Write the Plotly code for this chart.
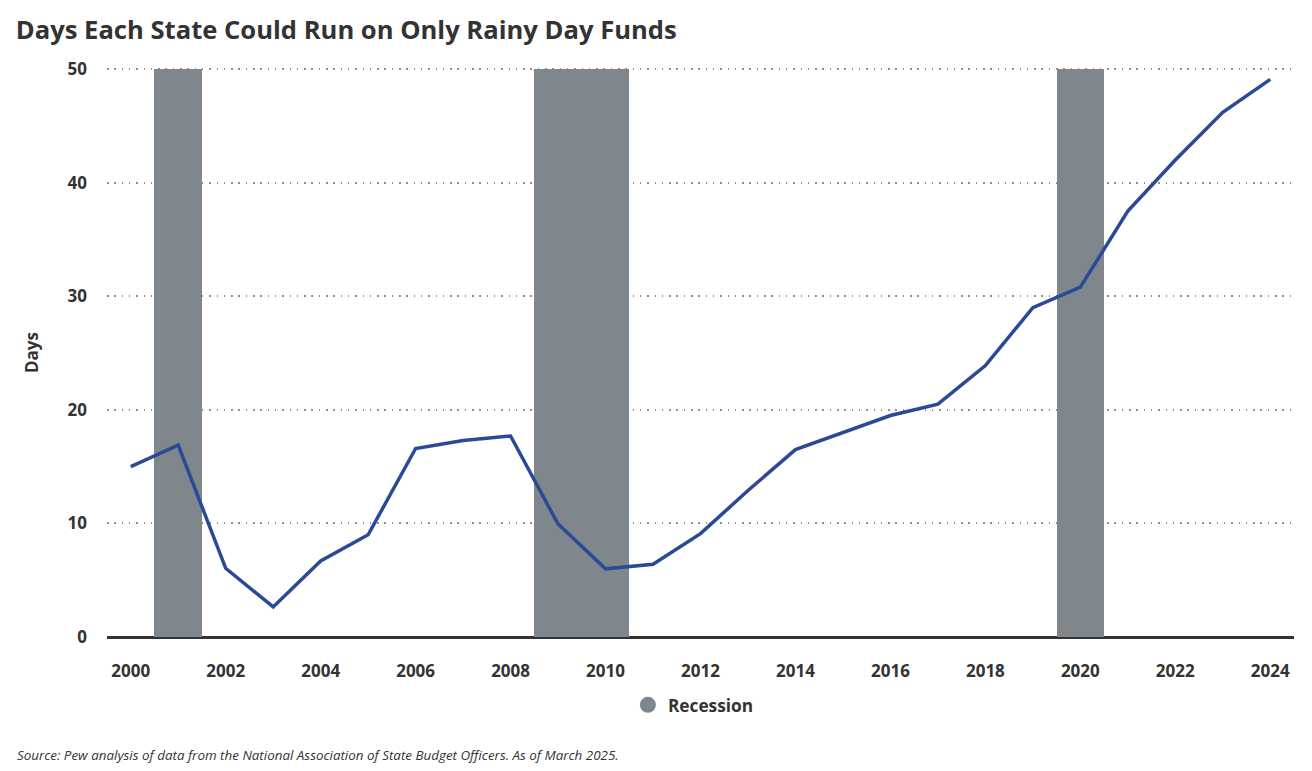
import plotly.graph_objects as go

years = list(range(2000, 2025))
days = [15.0, 16.9, 6.05, 2.65, 6.7, 9.0, 16.6, 17.3, 17.7, 9.95, 6.0, 6.4,
        9.1, 12.9, 16.5, 18.0, 19.5, 20.5, 23.9, 29.0, 30.8, 37.5, 42.0, 46.2, 49.1]

recession_start = [2000.5, 2008.5, 2019.5]
recession_end = [2001.5, 2010.5, 2020.5]
recession_top = 50

title_text = "Days Each State Could Run on Only Rainy Day Funds"
source_text = "Source: Pew analysis of data from the National Association of State Budget Officers. As of March 2025."

FONT = "Open Sans"
TXT = "#333333"
REC = "#7f868c"
LINE = "#2a4a96"

fig = go.Figure()

mids = [(s + e) / 2 for s, e in zip(recession_start, recession_end)]
widths = [e - s for s, e in zip(recession_start, recession_end)]
fig.add_trace(go.Bar(
    x=mids, y=[recession_top] * len(mids), width=widths,
    marker=dict(color=REC, line=dict(width=0)),
    showlegend=False, hoverinfo="skip",
))
fig.add_trace(go.Scatter(
    x=years, y=days, mode="lines",
    line=dict(color=LINE, width=3.5),
    showlegend=False,
))
fig.add_trace(go.Scatter(
    x=[None], y=[None], mode="markers", name="<b>Recession</b>",
    marker=dict(symbol="circle", size=17, color=REC),
))

fig.update_layout(
    width=1312, height=771,
    paper_bgcolor="white", plot_bgcolor="white",
    margin=dict(l=107, r=18, t=68, b=134),
    font=dict(family=FONT, color=TXT),
    title=dict(text="<b>" + title_text + "</b>", x=0.012, xanchor="left",
               y=0.961, yanchor="middle",
               font=dict(family=FONT, size=25.6, color=TXT)),
    bargap=0,
    legend=dict(orientation="h", x=0.494, xanchor="center", y=-0.1197, yanchor="middle",
                font=dict(family=FONT, size=17.3, color=TXT),
                itemsizing="trace", itemwidth=30),
    xaxis=dict(range=[1999.5, 2024.5], tickmode="array",
               tickvals=list(range(2000, 2025, 2)),
               ticktext=["<b>%d</b>" % v for v in range(2000, 2025, 2)],
               showgrid=False, zeroline=False, showline=False,
               ticks="", ticklabelstandoff=22,
               tickfont=dict(family=FONT, size=17, color=TXT)),
    yaxis=dict(range=[0, 50.1], tickvals=[0, 10, 20, 30, 40, 50],
               ticktext=["<b>%d</b>" % v for v in [0, 10, 20, 30, 40, 50]],
               showgrid=True, gridcolor="#8f8f8f", gridwidth=1.5, griddash="1.5px,5.8px",
               zeroline=True, zerolinecolor="#333333", zerolinewidth=3,
               showline=False, ticks="", ticklabelstandoff=19,
               tickfont=dict(family=FONT, size=17, color=TXT),
               title=dict(text="<b>Days</b>", standoff=24,
                          font=dict(family=FONT, size=17, color=TXT))),
    annotations=[dict(text="<i>" + source_text + "</i>", xref="paper", yref="paper",
                      x=-0.0775, y=-0.2077, xanchor="left", yanchor="middle",
                      showarrow=False, font=dict(family=FONT, size=13.4, color=TXT))],
)

fig.write_html("out.html", config={"displayModeBar": False},
               post_script="document.body.style.margin='0';")
